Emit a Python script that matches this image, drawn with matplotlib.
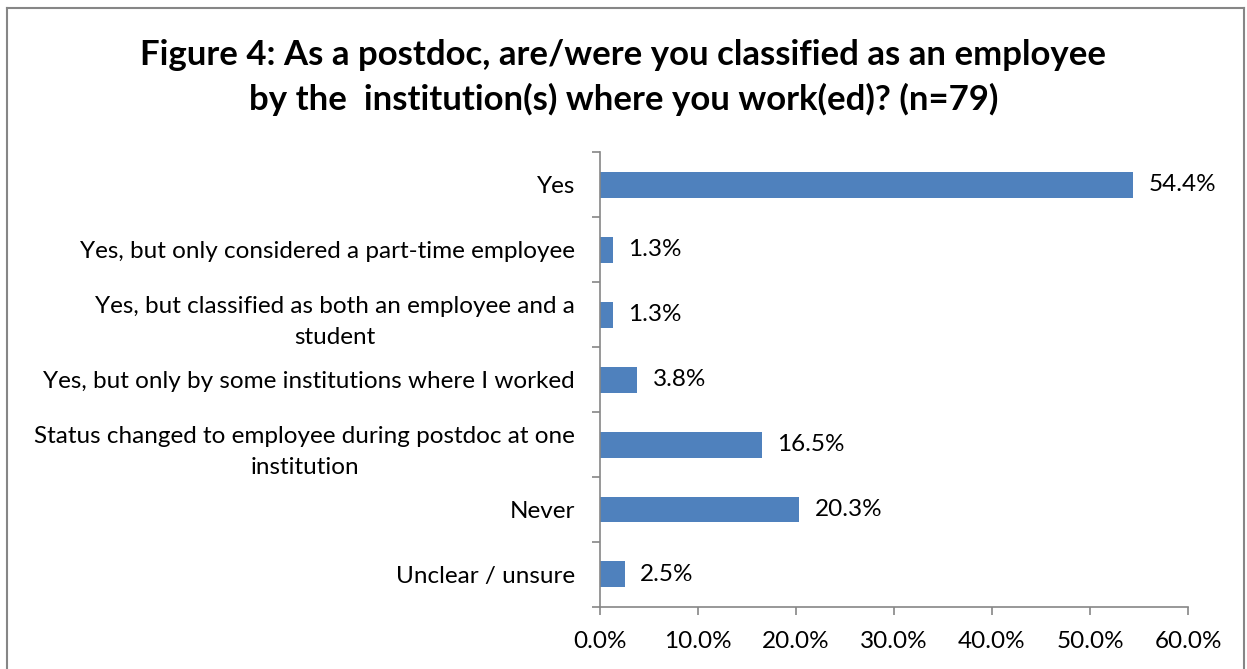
import matplotlib.pyplot as plt
from matplotlib.lines import Line2D
import numpy as np

categories = [
    "Yes",
    "Yes, but only considered a part-time employee",
    "Yes, but classified as both an employee and a\nstudent",
    "Yes, but only by some institutions where I worked",
    "Status changed to employee during postdoc at one\ninstitution",
    "Never",
    "Unclear / unsure",
]
values = [54.4, 1.3, 1.3, 3.8, 16.5, 20.3, 2.5]
xticks = [0, 10, 20, 30, 40, 50, 60]

plt.rcParams['font.family'] = ['Lato', 'DejaVu Sans']
axis_grey = "#868686"
fs = 17.5

fig = plt.figure(figsize=(12.47, 6.69), dpi=100)
ax = fig.add_axes([0.4812, 0.0927, 0.4715, 0.680])

y = np.arange(len(categories))
ax.barh(y, values, height=0.4, color="#4F81BD")
for yi, v in zip(y, values):
    ax.text(v + 1.6, yi, f"{v:.1f}%", va="center", ha="left", fontsize=fs)

ax.set_xlim(0, 60)
ax.set_ylim(len(categories) - 0.5, -0.5)
ax.set_xticks(xticks)
ax.set_xticklabels([f"{t:.1f}%" for t in xticks], fontsize=fs)
ax.set_yticks(np.arange(len(categories) + 1) - 0.5)
ax.set_yticklabels([])
ax.set_yticks(y, minor=True)
ax.set_yticklabels(categories, minor=True, fontsize=fs, ha="right",
                   multialignment="center", linespacing=1.6)
ax.tick_params(axis="y", which="minor", length=0, pad=18)
ax.tick_params(axis="y", which="major", length=6, color=axis_grey, width=1.2)
ax.tick_params(axis="x", length=6, color=axis_grey, width=1.2, pad=11)

for s in ["top", "right"]:
    ax.spines[s].set_visible(False)
for s in ["left", "bottom"]:
    ax.spines[s].set_color(axis_grey)
    ax.spines[s].set_linewidth(1.2)

fig.text(0.5, 0.884, "Figure 4: As a postdoc, are/were you classified as an employee\n"
         "by the  institution(s) where you work(ed)? (n=79)",
         ha="center", va="center", fontsize=25, fontweight="bold",
         linespacing=1.45)

# outer chart border
bx0, by0, bx1 = 7 / 1247, 1 - 8 / 669, 1 - 3 / 1247
for xs, ys in [([bx0, bx1], [by0, by0]), ([bx0, bx0], [0, by0]), ([bx1, bx1], [0, by0])]:
    fig.add_artist(Line2D(xs, ys, color=axis_grey, lw=1.5, transform=fig.transFigure))

fig.savefig("out.png", dpi=100)
